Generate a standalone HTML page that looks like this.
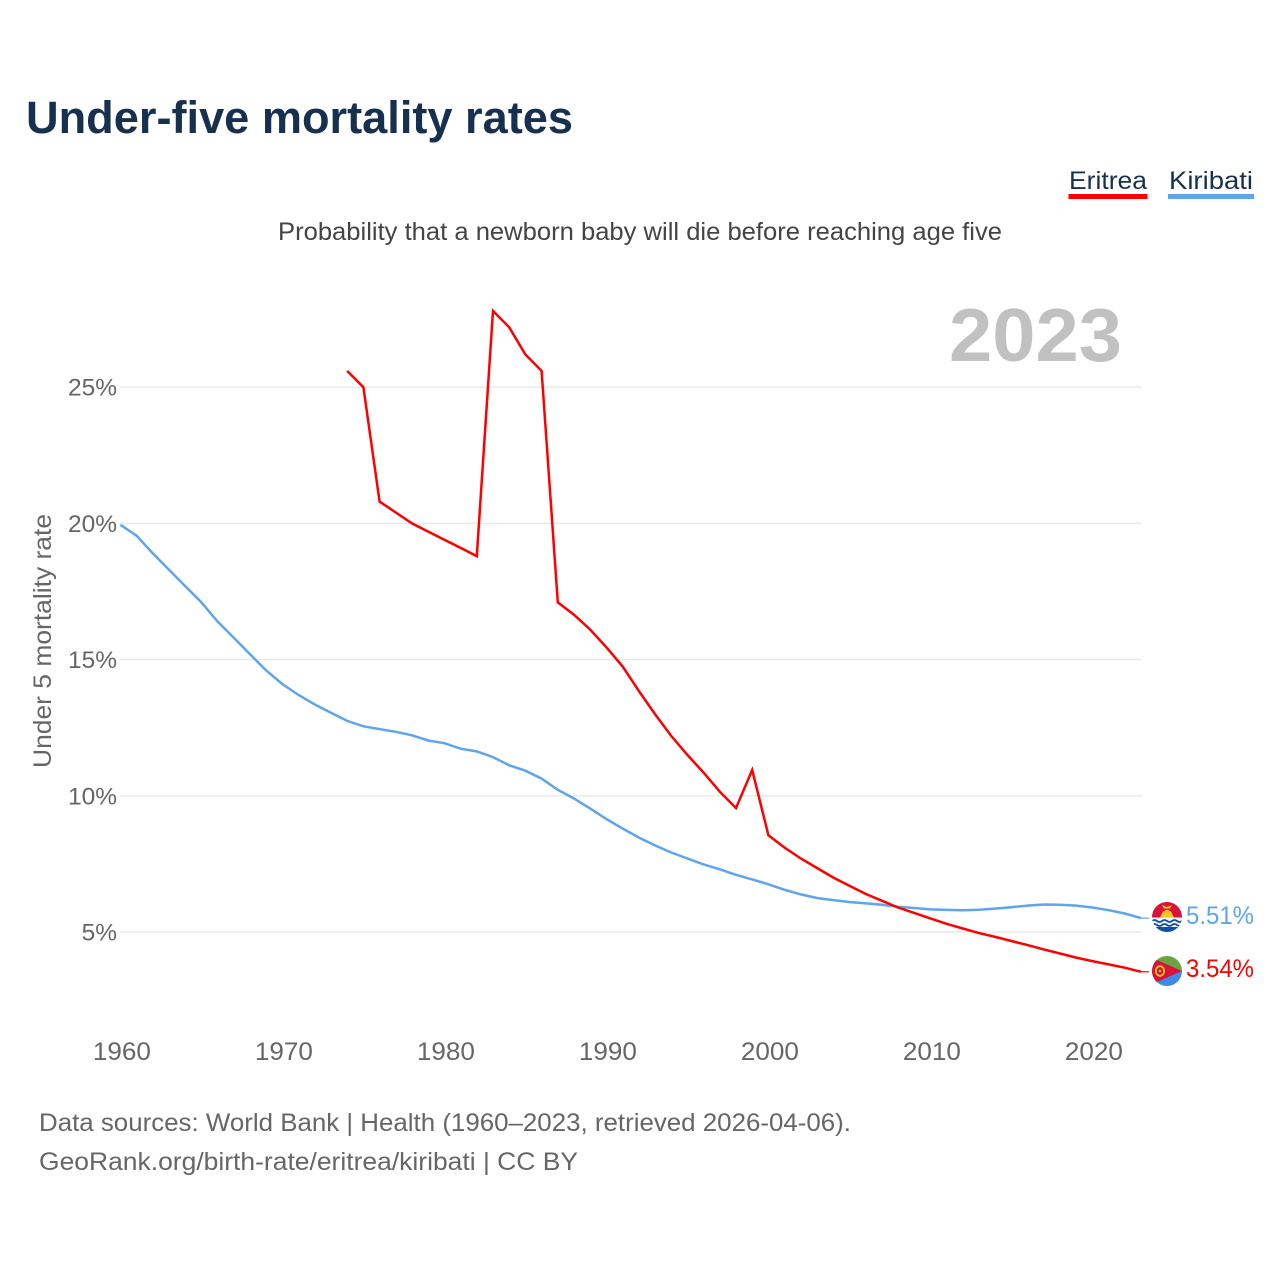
<!DOCTYPE html>
<html lang="en">
<head>
<meta charset="utf-8">
<title>Under-five mortality rates</title>
<style>
html,body{margin:0;padding:0;background:#fff;width:1280px;height:1280px;overflow:hidden}
svg{display:block}
text{font-family:"Liberation Sans",sans-serif}
</style>
</head>
<body>
<svg id="chart" xmlns="http://www.w3.org/2000/svg" width="1280" height="1280" viewBox="0 0 1280 1280">
  <defs>
    <clipPath id="flag-clip-k"><circle cx="1167" cy="917" r="15"/></clipPath>
    <clipPath id="flag-clip-e"><circle cx="1167" cy="971" r="15"/></clipPath>
  </defs>
  <rect width="1280" height="1280" fill="#fff"/>
  <text x="26" y="133" font-size="45" font-weight="700" fill="#18304f" textLength="547" lengthAdjust="spacingAndGlyphs">Under-five mortality rates</text>

  <g>
    <text x="1069" y="189" font-size="25" fill="#18304f" textLength="78" lengthAdjust="spacingAndGlyphs">Eritrea</text>
    <rect x="1068.5" y="194" width="79" height="5" fill="#ff0000"/>
  </g>
  <g>
    <text x="1169" y="189" font-size="25" fill="#18304f" textLength="84" lengthAdjust="spacingAndGlyphs">Kiribati</text>
    <rect x="1168" y="194" width="86" height="5" fill="#5ea5ec"/>
  </g>

  <text x="640" y="240" font-size="25" fill="#444" text-anchor="middle" textLength="724" lengthAdjust="spacingAndGlyphs">Probability that a newborn baby will die before reaching age five</text>
  <text x="1122" y="361" font-size="75" font-weight="700" fill="#c1c1c1" text-anchor="end" textLength="173" lengthAdjust="spacingAndGlyphs">2023</text>
  <text transform="translate(51 641) rotate(-90)" font-size="25" fill="#666" text-anchor="middle" textLength="254" lengthAdjust="spacingAndGlyphs">Under 5 mortality rate</text>

  <g id="grid"></g>
  <g id="yticks"></g>
  <g id="xticks"></g>
  <g id="series"></g>

  <g clip-path="url(#flag-clip-k)">
    <rect x="1152" y="902" width="30" height="15.5" fill="#d8123a"/>
    <polygon points="1160,917.5 1163,911.5 1167,909.5 1171,911.5 1174,917.5" fill="#f7c51e"/>
    <polygon points="1162,905 1167,907 1172,905 1170,908.5 1164,908.5" fill="#f7c51e"/>
    <rect x="1152" y="917.5" width="30" height="9.5" fill="#f4f6f8"/>
    <rect x="1152" y="927" width="30" height="5" fill="#0f4fa8"/>
    <path d="M1152 921q2.5-2 5 0t5 0 5 0 5 0 5 0 5 0M1152 925q2.5-2 5 0t5 0 5 0 5 0 5 0 5 0" fill="none" stroke="#0f4fa8" stroke-width="1.8"/>
  </g>
  <g clip-path="url(#flag-clip-e)">
    <rect x="1152" y="956" width="30" height="15" fill="#6aa343"/>
    <rect x="1152" y="971" width="30" height="15" fill="#3f8ae8"/>
    <polygon points="1150,957 1182,971 1150,985" fill="#d8123a"/>
    <ellipse cx="1160" cy="971" rx="4.2" ry="4.8" fill="none" stroke="#f7c51e" stroke-width="1.8"/>
    <circle cx="1160" cy="971" r="1.2" fill="#f7c51e"/>
  </g>

  <text x="1186" y="924" font-size="25" fill="#5ea5ec" textLength="68" lengthAdjust="spacingAndGlyphs">5.51%</text>
  <text x="1186" y="977" font-size="25" fill="#ff0000" textLength="68" lengthAdjust="spacingAndGlyphs">3.54%</text>

  <text x="39" y="1131" font-size="25" fill="#666" textLength="812" lengthAdjust="spacingAndGlyphs">Data sources: World Bank | Health (1960–2023, retrieved 2026-04-06).</text>
  <text x="39" y="1170" font-size="25" fill="#666" textLength="539" lengthAdjust="spacingAndGlyphs">GeoRank.org/birth-rate/eritrea/kiribati | CC BY</text>
</svg>
<script>
const yTickValues = [5, 10, 15, 20, 25];
const xTickYears = [1960, 1970, 1980, 1990, 2000, 2010, 2020];
const kiribatiStartYear = 1960;
const kiribatiValues = [19.95,19.55,18.9,18.3,17.7,17.1,16.4,15.8,15.2,14.6,14.1,13.7,13.35,13.05,12.75,12.55,12.45,12.35,12.22,12.03,11.93,11.73,11.63,11.42,11.12,10.92,10.63,10.22,9.9,9.53,9.15,8.8,8.47,8.18,7.92,7.7,7.48,7.3,7.1,6.93,6.75,6.55,6.38,6.25,6.17,6.1,6.05,6.0,5.93,5.88,5.83,5.81,5.8,5.82,5.86,5.91,5.97,6.01,6.0,5.97,5.9,5.8,5.68,5.51];
const eritreaStartYear = 1974;
const eritreaValues = [25.6,25.0,20.8,20.4,20.0,19.7,19.4,19.1,18.8,27.8,27.2,26.2,25.6,17.1,16.65,16.1,15.45,14.75,13.85,13.0,12.2,11.5,10.85,10.15,9.55,10.95,8.55,8.1,7.7,7.35,7.0,6.7,6.4,6.15,5.9,5.7,5.5,5.3,5.13,4.96,4.82,4.67,4.52,4.36,4.21,4.06,3.93,3.81,3.69,3.54];

const NS = 'http://www.w3.org/2000/svg';
const xScale = year => 120.4 + (year - 1960) * 16.2;
const yScale = value => 932 - (value - 5) * 27.24;

const grid = document.getElementById('grid');
const yticks = document.getElementById('yticks');
const xticks = document.getElementById('xticks');
const series = document.getElementById('series');

yTickValues.forEach(v => {
  const line = document.createElementNS(NS, 'line');
  
  
  line.setAttribute('x1', 120);
  line.setAttribute('x2', 1141.5);
  line.setAttribute('y1', yScale(v));
  line.setAttribute('y2', yScale(v));
  line.setAttribute('stroke', '#e8e8e8');
  line.setAttribute('stroke-width', 1.4);
  grid.appendChild(line);

  const label = document.createElementNS(NS, 'text');
  
  
  label.setAttribute('x', 117);
  label.setAttribute('y', yScale(v) + 8.5);
  label.setAttribute('text-anchor', 'end');
  label.setAttribute('font-size', 24.5);
  label.setAttribute('fill', '#666');
  label.textContent = v + '%';
  yticks.appendChild(label);
});

xTickYears.forEach(y => {
  const label = document.createElementNS(NS, 'text');
  
  
  label.setAttribute('x', xScale(y) + 1.5);
  label.setAttribute('y', 1060);
  label.setAttribute('text-anchor', 'middle');
  label.setAttribute('font-size', 25);
  label.setAttribute('fill', '#666');
  label.setAttribute('textLength', 58);
  label.setAttribute('lengthAdjust', 'spacingAndGlyphs');
  label.textContent = y;
  xticks.appendChild(label);
});

function linePoints(startYear, values) {
  return values.map((v, i) => xScale(startYear + i).toFixed(1) + ',' + yScale(v).toFixed(1)).join(' ');
}

function addStub(startYear, values, color) {
  const last = startYear + values.length - 1;
  const stub = document.createElementNS(NS, 'line');
  
  
  stub.setAttribute('x1', xScale(last));
  stub.setAttribute('x2', xScale(last) + 8);
  stub.setAttribute('y1', yScale(values[values.length - 1]));
  stub.setAttribute('y2', yScale(values[values.length - 1]));
  stub.setAttribute('stroke', color);
  stub.setAttribute('stroke-width', 1.2);
  series.appendChild(stub);
}

addStub(kiribatiStartYear, kiribatiValues, '#5ea5ec');
addStub(eritreaStartYear, eritreaValues, '#ff0000');

const kiribatiLine = document.createElementNS(NS, 'polyline');


kiribatiLine.setAttribute('points', linePoints(kiribatiStartYear, kiribatiValues));
kiribatiLine.setAttribute('fill', 'none');
kiribatiLine.setAttribute('stroke', '#5ea5ec');
kiribatiLine.setAttribute('stroke-width', 2.5);
series.appendChild(kiribatiLine);

const eritreaLine = document.createElementNS(NS, 'polyline');


eritreaLine.setAttribute('points', linePoints(eritreaStartYear, eritreaValues));
eritreaLine.setAttribute('fill', 'none');
eritreaLine.setAttribute('stroke', '#ff0000');
eritreaLine.setAttribute('stroke-width', 2.5);
series.appendChild(eritreaLine);
</script>
</body>
</html>
